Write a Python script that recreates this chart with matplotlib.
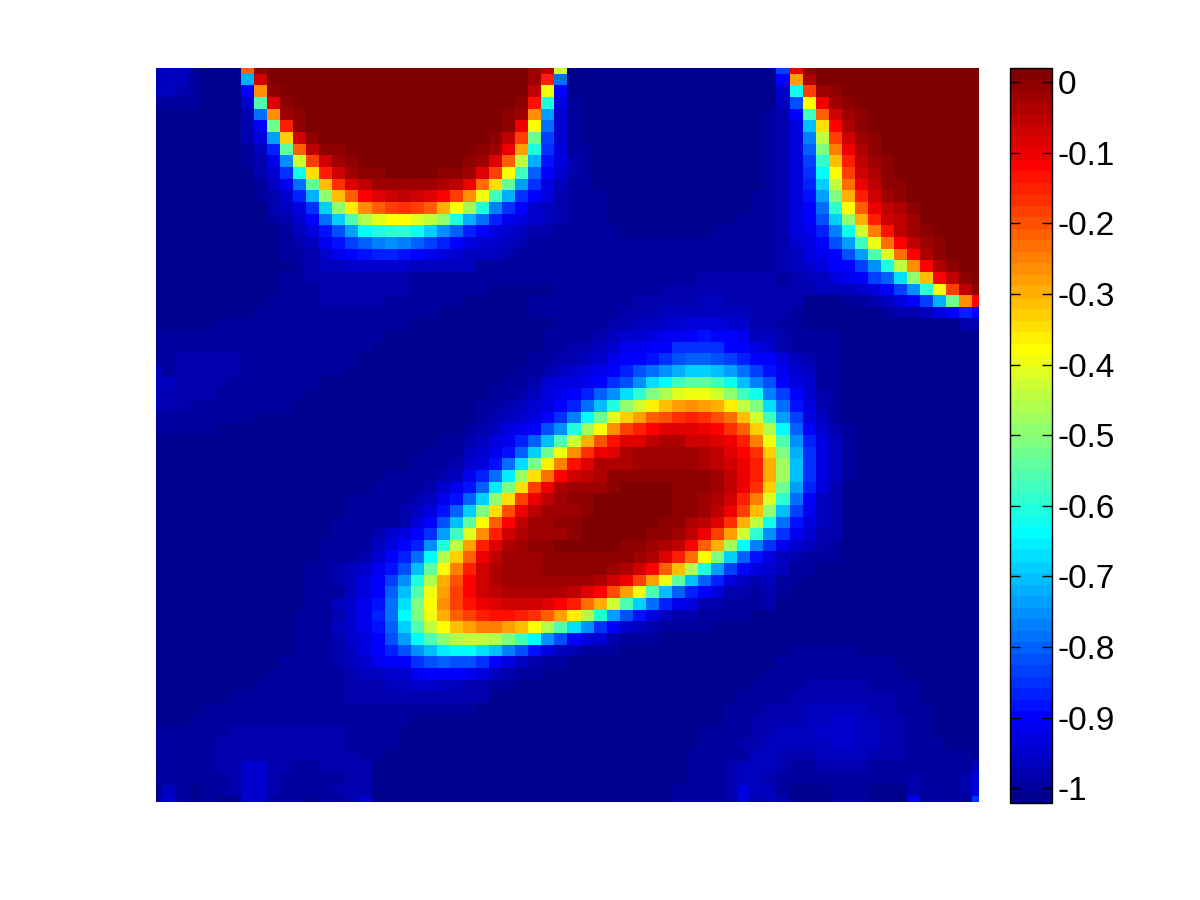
#Imports plots
import numpy as np
import matplotlib
matplotlib.use('Agg')
import matplotlib.pyplot as plt
from matplotlib.colors import ListedColormap

#Niveles de color, un caracter por celda (0 = azul oscuro, / = rojo oscuro)
alfabeto = '0123456789abcdefghijklmnopqrstuvwxyzABCDEFGHIJKLMNOPQRSTUVWXYZ+/'

filas = [
    '3331000N +/////// //////// /////ZXA 00000000 00000000 bU+///// ////////',
    '2331000i W/////// //////// /////ZRe 00000000 00000000 7JY///// ////////',
    '33210007 K+////// //////// /////XC7 00000000 00000000 4oPZ+/// ////////',
    '11110004 sV+///// //////// ////+Sp5 10000000 00000000 3cDUZ+// ////////',
    '00000002 eKZ+//// //////// ///+ZKh4 10000000 00000001 27rNWZ+/ ////////',
    '00000002 7uR+//// //////// ///+UDe4 10000000 00000001 25jFTY+/ ////////',
    '00000002 5hGW+/// //////// //+XPub4 10000000 00000001 25fzPWZ+ ////////',
    '00000001 39tNX++/ //////// /+ZUJpa5 11000000 00000001 25dvLUY+ ////////',
    '00000001 26gAPWZ+ //////// +ZVNzi85 21000000 00000001 25bqHRXZ +///////',
    '00000000 24aoFRWZ ++////++ ZVPDrd74 21000000 00000001 25anDPWY +///////',
    '00000000 136etHQV XZZZZZYX UMFtha53 11000000 00000001 259kzMUX ++//////',
    '00000000 1249iwHN TVWXWVTP KCria752 11100000 00000011 258hvIRW Z+//////',
    '00000000 0235akwE KNPQPNID xpfa7432 11100000 00000011 257eqDNU XY+/////',
    '00000000 01247eks yBDDBzwp ie965432 11100000 00000111 257ckwIR WXZ/////',
    '00000000 001358ch npqqokgd 97543221 11110000 00011111 2569foAL SXZ+////',
    '00000000 0012368b dfgfdb97 54432111 11111111 11111111 2457chrC MTXZ+///',
    '00000000 00112467 89987654 33321111 11111111 11111111 23567chs BMTY+///',
    '00000000 00012334 44443333 31111111 11111111 11111111 234577bg pzKTY+//',
    '00000000 00112222 22221111 11111111 11111111 11222222 1233567b dlwHTX+/',
    '00000000 00111222 22221111 11000001 11111112 22222222 22233345 7bgqDPX+',
    '00000000 01111222 22111111 00000111 11111222 22332222 22000112 357biuKT',
    '00000000 11111111 11111100 00000111 11112223 33333322 21000000 12235797',
    '00000111 11111111 11110000 00000001 11122334 45554422 11000000 00000022',
    '11111111 11111111 11000000 00000011 11234456 67877633 21111000 00000000',
    '01111111 11111111 10000000 00000011 22346677 aaaa7754 21111000 00000000',
    '11222221 11111111 00000000 00000112 2346778a cddcb977 53211000 00000000',
    '31222221 11111110 00000000 00001123 45679ceg ikkjheb8 64311000 00000000',
    '33222211 11111000 00000000 00011245 567acgln rttrojfc 75411000 00000000',
    '32222111 11110000 00000000 00112356 79dglqvy BCCAwrof b7421000 00000000',
    '32211111 11100000 00000000 01123457 9ejpwAEH JKJIEzvl e8521000 00000000',
    '11111111 00000000 00000000 0123457a fnuBGJNO QRQOMHAr hb531000 00000000',
    '11111000 00000000 00000000 123567cg pxDKPRTV VVUTQNGy nd742100 00000000',
    '00000000 00000000 00000011 23569djs AIOSVVXY YWWVURLC sg953100 00000000',
    '00000000 00000000 00000111 3468dkuC KQUVYZZZ ZZYXVTQG via53100 00000000',
    '00000000 00000000 00001112 458elvEL SVYYYZZZ ZZYXWURI xja53100 00000000',
    '00000000 00000000 00111123 69emxFMT WXY+++++ +++ZXURI xja53100 00000000',
    '00000000 00000000 01111246 8dmvFPUY ZZZ+//// +++ZXUQG uh952000 00000000',
    '00000000 00000001 11112368 dkwFPUXZ ++////// ++ZYWRLB qe732000 00000000',
    '00000000 00000001 1112358d kvFOUXZZ Z+////// ++ZXUPHw jb632000 00000000',
    '00000000 00000011 111257cj tDNTXZZ+ +//////+ +YXVQIzo e8532000 00000000',
    '00000000 00000011 12457ahr BKRWYZZZ +/////++ ZXUPJAqg a6422000 00000000',
    '00000000 00000111 13579gpz JRVYZ++/ ////++ZY XTNIxnfa 64321000 00000000',
    '00000000 00000111 2479enyG NUXZZZ++ +++++ZYV RMDvkd85 32111000 00000000',
    '00000000 00001123 468cjtDL RWYZZZ++ +++ZYWTN Hyphb754 31100000 00000000',
    '00000000 00001123 57bgpyIO TWYZZZZZ ZZYWUPJC tjd95323 11000000 00000000',
    '00000000 00001113 57djsCJP TWXYYYYY XVTOJCsj d9752212 10000000 00000000',
    '00000000 00001134 68elvDKP SUVWWWVT RMIAske9 65221112 00000000 00000000',
    '00000000 00011124 69envCIN PRSSRQNJ Eyphc853 22111100 00000000 00000000',
    '00000000 00011134 68dkszDH JLLJHDys lga74321 11100000 00000000 00000000',
    '00000000 00011124 57chnswy zzyvrngc 75421110 00000000 00000000 00000000',
    '00000000 00011123 579cgjmn nljfc853 21110000 00000000 01111100 00000000',
    '00000000 00111123 4677acdc ca753211 00000000 00000000 11111111 10000000',
    '00000000 01111112 33446777 65321100 00000000 00000001 11111111 11000000',
    '00000000 11111112 22334433 22110000 00000000 00000011 11222221 11100000',
    '00000011 11111112 22222222 22000000 00000000 00000111 12222222 21100000',
    '00001111 11111111 11111111 10000000 00000000 00001112 22333332 21110000',
    '00011111 11111111 11110000 00000000 00000000 00001122 22334433 22110000',
    '11111122 22222221 11100000 00000000 00000000 00111122 33344433 22110000',
    '11111222 22222221 11100000 00000000 00000000 00111223 33334433 22111000',
    '11111222 22222222 11000000 00000000 00000000 01111133 22233332 22111110',
    '01111224 42211222 20000000 00000000 00000000 01112333 21122221 11111113',
    '11111124 42111112 20000000 00000000 00000000 01112332 11111111 11211125',
    '03101124 42111122 20000000 00000000 00000000 11112533 10001110 00211125',
    '14101004 41110112 40000000 00000000 00000000 11112523 20001110 0061111a',
]

#Rango de la barra de color
vmin = -1.021
vmax = 0.02
ticks_barra = [-1, -0.9, -0.8, -0.7, -0.6, -0.5, -0.4, -0.3, -0.2, -0.1, 0]
etiquetas_barra = ['-1', '-0.9', '-0.8', '-0.7', '-0.6', '-0.5', '-0.4', '-0.3', '-0.2', '-0.1', '0']

#Paso de niveles a valores
niveles = np.array([[alfabeto.index(c) for c in f.replace(' ', '')] for f in filas])
Z = vmin + (niveles + 0.5) / 64 * (vmax - vmin)

#Jet de 64 colores como el de matlab
x = np.arange(1, 65) / 64
rojo = np.clip(np.minimum(4 * x - 1.5, -4 * x + 4.5), 0, 1)
verde = np.clip(np.minimum(4 * x - 0.5, -4 * x + 3.5), 0, 1)
azul = np.clip(np.minimum(4 * x + 0.5, -4 * x + 2.5), 0, 1)
jet64 = ListedColormap(np.column_stack([rojo, verde, azul]))

plt.rcParams['font.family'] = ['Liberation Sans', 'DejaVu Sans']

fig = plt.figure(figsize=(12, 9), dpi=100)

#Mapa de calor, las celdas de los bordes quedan a la mitad
ax = fig.add_axes([156 / 1200, 1 - 801.7 / 900, 823 / 1200, 733.7 / 900])
im = ax.imshow(Z, cmap=jet64, vmin=vmin, vmax=vmax, aspect='auto', interpolation='nearest')
ax.set_xlim(0, 63)
ax.set_ylim(63, 0)
ax.axis('off')

#Barra de color
cax = fig.add_axes([1010 / 1200, 1 - 803 / 900, 42 / 1200, 735 / 900])
cb = fig.colorbar(im, cax=cax)
cb.set_ticks(ticks_barra)
cb.set_ticklabels(etiquetas_barra)
cb.outline.set_linewidth(1)
cb.outline.set_edgecolor('black')
cax.tick_params(direction='in', length=7, width=1, left=True, right=True, labelsize=24, pad=4)

plt.savefig('out.png', dpi=100)
